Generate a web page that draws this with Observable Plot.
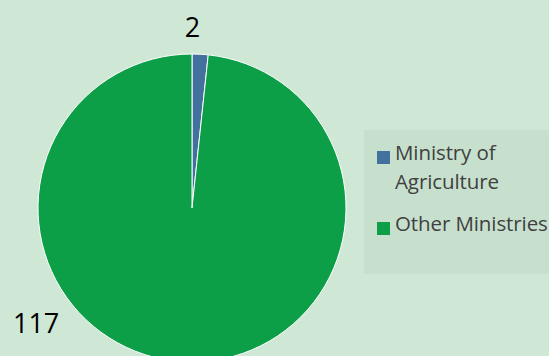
<!DOCTYPE html>
<html>
<head>
<meta charset="utf-8">
<script src="https://cdn.jsdelivr.net/npm/d3@7"></script>
<script src="https://cdn.jsdelivr.net/npm/@observablehq/plot@0.6"></script>
<style>
  html, body { margin: 0; padding: 0; background: #cfe8d6; }
  #wrap { position: relative; width: 549px; height: 356px; overflow: hidden; }
  #legend {
    position: absolute; left: 364px; top: 130px; width: 200px; height: 144px;
    background: #c7e0cd; font-family: "Open Sans", sans-serif; font-size: 20.5px; color: #404040;
  }
  .item { position: absolute; left: 13px; display: flex; align-items: flex-start; white-space: nowrap; }
  .sw { width: 13px; height: 13px; margin-top: 6px; margin-right: 5px; flex: none; }
  .lab { line-height: 29px; margin-top: -7px; letter-spacing: -0.1px; }
</style>
</head>
<body>
<div id="wrap"></div>
<script>
const categories = ["Ministry of Agriculture", "Other Ministries"];
const legendLines = [["Ministry of", "Agriculture"], ["Other Ministries"]];
const values = [2, 117];
const labels = ["2", "117"];
const colors = ["#41719c", "#0c9f48"];

const table = categories.map((c, i) => ({category: c, value: values[i], label: labels[i]}));

// layout
const W = 549, H = 356, cx = 192, cy = 208, R = 154;
const labelPlacement = [{angle: 0, r: 181}, {angle: 233.7, r: 194}];

const colorScale = Plot.scale({color: {type: "ordinal", domain: categories, range: colors}});
const pie = d3.pie().sort(null).value(d => d.value)(table);

const labelRows = table.map((d, i) => {
  const a = labelPlacement[i].angle * Math.PI / 180;
  return {label: d.label, px: cx + labelPlacement[i].r * Math.sin(a), py: cy - labelPlacement[i].r * Math.cos(a)};
});

function pieMark(index, scales) {
  const g = d3.create("svg:g")
    .attr("transform", `translate(${scales.x(cx)},${scales.y(cy)})`);
  const arc = d3.arc().innerRadius(0).outerRadius(R);
  g.selectAll("path").data(pie).join("path")
    .attr("d", arc)
    .attr("fill", d => colorScale.apply(d.data.category))
    .attr("stroke", "#ffffff")
    .attr("stroke-width", 1)
    .attr("stroke-linejoin", "round");
  return g.node();
}

const chart = Plot.plot({
  width: W, height: H, margin: 0,
  style: {background: "transparent", overflow: "hidden"},
  x: {type: "linear", domain: [0, W], range: [0, W], axis: null},
  y: {type: "linear", domain: [0, H], range: [0, H], axis: null},
  marks: [
    pieMark,
    Plot.text(labelRows, {x: "px", y: "py", text: "label", fill: "#000", fontSize: 27,
      fontFamily: "Open Sans", textAnchor: "middle", dy: 1})
  ]
});
chart.style.position = "absolute";
chart.style.left = "0px";
chart.style.top = "0px";
const wrap = document.getElementById("wrap");
wrap.appendChild(chart);

const legend = document.createElement("div");
legend.id = "legend";
const tops = [15, 86];
categories.forEach((c, i) => {
  const item = document.createElement("div");
  item.className = "item";
  item.style.top = tops[i] + "px";
  const sw = document.createElement("div");
  sw.className = "sw";
  sw.style.background = colorScale.apply(c);
  const lab = document.createElement("div");
  lab.className = "lab";
  lab.innerHTML = legendLines[i].join("<br>");
  item.appendChild(sw); item.appendChild(lab);
  legend.appendChild(item);
});
wrap.appendChild(legend);
</script>
</body>
</html>
